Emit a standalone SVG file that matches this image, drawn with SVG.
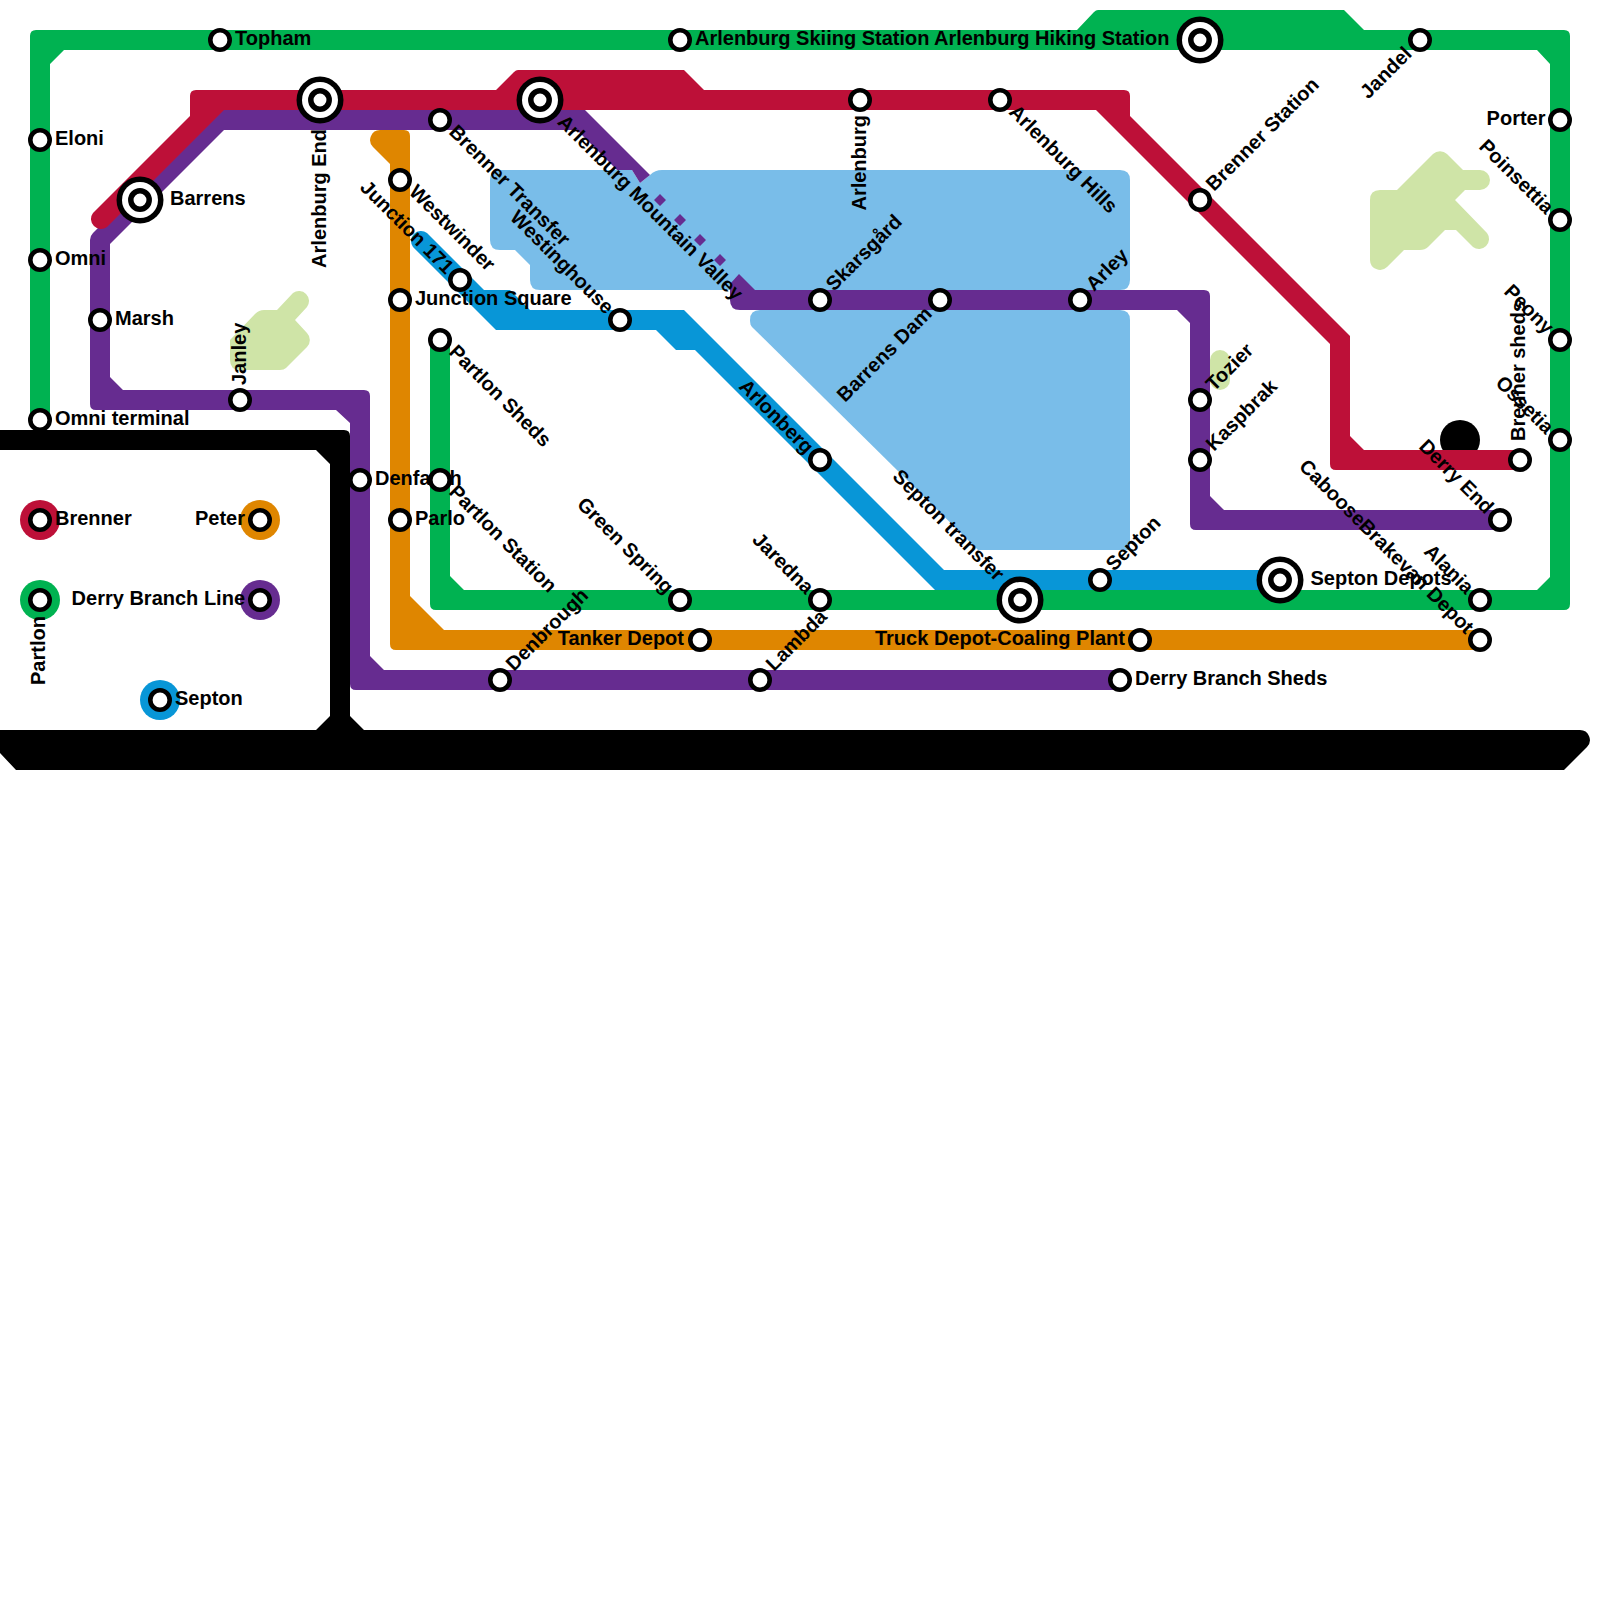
<svg xmlns="http://www.w3.org/2000/svg" width="1600" height="1600" viewBox="0 0 1600 1600">
<style>
text{font-family:"Liberation Sans",Arial,sans-serif;font-weight:700;font-size:20px;fill:#000}
.e{text-anchor:end}
.st{fill:#fff;stroke:#000;stroke-width:4.6}
.lake{fill:#79bde9}
.park{fill:#cfe4a7}
.dia{fill:#662c90}
</style>
<defs>
<circle id="s" class="st" r="9.7"/>
<g id="x"><circle r="23.5" fill="#000"/><circle r="18" fill="#fff"/><circle r="9.2" fill="#fff" stroke="#000" stroke-width="5.5"/></g>
</defs>
<rect width="1600" height="1600" fill="#fff"/>
<g id="scenery">
<circle cx="1460" cy="440" r="20" fill="#000"/>
<path class="park" d="M230 340L255 314Q259 310 264 310L277 310L293 293A10 10 0 0 1 307 307L295 320L307 333A10 10 0 0 1 307 347L286 368Q284 370 280 370L240 370Q230 370 230 360Z"/>
<path class="park" d="M1370 200Q1370 190 1380 190L1397 190L1433 154A10 10 0 0 1 1447 154L1463 170L1480 170A10 10 0 0 1 1480 190L1465 190L1455 200L1487 233A10 10 0 0 1 1473 247L1456 230L1445 230L1428 247Q1425 250 1420 250L1404 250L1387 267A10 10 0 0 1 1370 260Z"/>
<path d="M1220 360V380" stroke="#cfe4a7" stroke-width="20" stroke-linecap="round" fill="none"/>
<path class="lake" d="M500 170L632 170L640 183L650 175Q655 170 662 170L1120 170Q1130 170 1130 180L1130 280Q1130 290 1120 290L540 290Q530 290 530 280L530 265L515 250L500 250Q490 250 490 240L490 180Q490 170 500 170Z"/>
<path class="lake" d="M760 310L1120 310Q1130 310 1130 320L1130 550L978 550L752 327Q750 325 750 320Q750 310 760 310Z"/>
</g>
<g id="connectors">
<path id="line-septon" fill="#0896d7" d="M413 247A10 10 0 0 1 427 233L484 290L510 290L530 310L684 310L944 570L1280 570L1280 590L935 590L695 350L676 350L656 330L496 330Z"/>
<path id="line-peter" fill="#df8600" d="M380 130L404 130Q410 130 410 136L410 596L444 630L1480 630L1480 650L396 650Q390 650 390 644L390 164L373 147A10 10 0 0 1 380 130Z"/>
<path id="line-green" fill="#00b251" d="M30 420L30 36Q30 30 36 30L1077 30L1094 12Q1096 10 1098 10L1344 10L1364 30L1564 30Q1570 30 1570 36L1570 604Q1570 610 1564 610L436 610Q430 610 430 604L430 340L450 340L450 576L464 590L1537 590L1550 577L1550 64L1537 50L64 50L50 64L50 420Z"/>
<path id="line-derry-a" fill="#662c90" d="M90 240Q90 236 93 233L216 110L585 110L650 175L640 183L632 170L617 170L577 130L224 130L110 244L110 377L123 390L364 390Q370 390 370 396L370 656L384 670L1120 670L1120 690L356 690Q350 690 350 684L350 423L336 410L96 410Q90 410 90 404Z"/>
<path id="line-derry-b" fill="#662c90" d="M739 274L755 290L1204 290Q1210 290 1210 296L1210 496L1224 510L1500 510L1500 530L1196 530Q1190 530 1190 524L1190 323L1177 310L740 310Q730 310 730 300L730 284Z"/>
<path class="dia" d="M660 194l6 6l-6 6l-6-6ZM680 214l6 6l-6 6l-6-6ZM700 234l6 6l-6 6l-6-6ZM720 254l6 6l-6 6l-6-6Z"/>
<path id="line-brenner" fill="#bd1038" d="M93 213L190 116L190 96Q190 90 196 90L496 90L514 72Q516 70 518 70L684 70L704 90L1124 90Q1130 90 1130 96L1130 116L1350 336L1350 436L1364 450L1520 450L1520 470L1336 470Q1330 470 1330 464L1330 344L1096 110L224 110L107 227A10 10 0 0 1 93 213Z"/>
</g>
<g id="nodes">
<g id="n-topham"><text x="235" y="45">Topham</text><use href="#s" x="220" y="40"/></g>
<g id="n-eloni"><text x="55" y="145">Eloni</text><use href="#s" x="40" y="140"/></g>
<g id="n-omni"><text x="55" y="265">Omni</text><use href="#s" x="40" y="260"/></g>
<g id="n-omni-terminal"><text x="55" y="425">Omni terminal</text><use href="#s" x="40" y="420"/></g>
<g id="n-marsh"><text x="115" y="325">Marsh</text><use href="#s" x="100" y="320"/></g>
<g id="n-barrens"><text x="170" y="205">Barrens</text><use href="#x" x="140" y="200"/></g>
<g id="n-arlenburg-end"><text class="e" transform="translate(325.5 129) rotate(-90)">Arlenburg End</text><use href="#x" x="320" y="100"/></g>
<g id="n-janley"><text transform="translate(246 385) rotate(-90)">Janley</text><use href="#s" x="240" y="400"/></g>
<g id="n-brenner-transfer"><text transform="translate(448 133) rotate(45)">Brenner Transfer</text><use href="#s" x="440" y="120"/></g>
<g id="n-westinghouse"><text class="e" transform="translate(605.5 315) rotate(45)">Westinghouse</text><use href="#s" x="620" y="320"/></g>
<g id="n-arlenburg-mountain-valley"><text transform="translate(556.5 123) rotate(45)">Arlenburg Mountain Valley</text><use href="#x" x="540" y="100"/></g>
<g id="n-westwinder"><text transform="translate(408 193) rotate(45)">Westwinder</text><use href="#s" x="400" y="180"/></g>
<g id="n-junction-171"><text class="e" transform="translate(445.5 275) rotate(45)">Junction 171</text><use href="#s" x="460" y="280"/></g>
<g id="n-junction-square"><text x="415" y="305">Junction Square</text><use href="#s" x="400" y="300"/></g>
<g id="n-partlon-sheds"><text transform="translate(448 353) rotate(45)">Partlon Sheds</text><use href="#s" x="440" y="340"/></g>
<g id="n-denfaoth"><text x="375" y="485">Denfaoth</text><use href="#s" x="360" y="480"/></g>
<g id="n-partlon-station"><text transform="translate(448 493) rotate(45)">Partlon Station</text><use href="#s" x="440" y="480"/></g>
<g id="n-parlo"><text x="415" y="525">Parlo</text><use href="#s" x="400" y="520"/></g>
<g id="n-denbrough"><text transform="translate(514 672) rotate(-45)">Denbrough</text><use href="#s" x="500" y="680"/></g>
<g id="n-green-spring"><text class="e" transform="translate(665.5 595) rotate(45)">Green Spring</text><use href="#s" x="680" y="600"/></g>
<g id="n-tanker-depot"><text class="e" x="684" y="645">Tanker Depot</text><use href="#s" x="700" y="640"/></g>
<g id="n-lambda"><text transform="translate(774 672) rotate(-45)">Lambda</text><use href="#s" x="760" y="680"/></g>
<g id="n-jaredna"><text class="e" transform="translate(805.5 595) rotate(45)">Jaredna</text><use href="#s" x="820" y="600"/></g>
<g id="n-arlonberg"><text class="e" transform="translate(805.5 455) rotate(45)">Arlonberg</text><use href="#s" x="820" y="460"/></g>
<g id="n-skiing"><text x="695" y="45">Arlenburg Skiing Station</text><use href="#s" x="680" y="40"/></g>
<g id="n-hiking"><text class="e" x="1169.5" y="45">Arlenburg Hiking Station</text><use href="#x" x="1200" y="40"/></g>
<g id="n-arlenburg"><text class="e" transform="translate(865.7 115) rotate(-90)">Arlenburg</text><use href="#s" x="860" y="100"/></g>
<g id="n-arlenburg-hills"><text transform="translate(1008 113) rotate(45)">Arlenburg Hills</text><use href="#s" x="1000" y="100"/></g>
<g id="n-skarsgard"><text transform="translate(834 292) rotate(-45)">Skarsgård</text><use href="#s" x="820" y="300"/></g>
<g id="n-barrens-dam"><text class="e" transform="translate(933 315) rotate(-45)">Barrens Dam</text><use href="#s" x="940" y="300"/></g>
<g id="n-arley"><text transform="translate(1094 292) rotate(-45)">Arley</text><use href="#s" x="1080" y="300"/></g>
<g id="n-septon-transfer"><text class="e" transform="translate(996 582) rotate(45)">Septon transfer</text><use href="#x" x="1020" y="600"/></g>
<g id="n-septon"><text transform="translate(1114 572) rotate(-45)">Septon</text><use href="#s" x="1100" y="580"/></g>
<g id="n-truck-depot"><text class="e" x="1125" y="645">Truck Depot-Coaling Plant</text><use href="#s" x="1140" y="640"/></g>
<g id="n-derry-branch-sheds"><text x="1135" y="685">Derry Branch Sheds</text><use href="#s" x="1120" y="680"/></g>
<g id="n-brenner-station"><text transform="translate(1214 192) rotate(-45)">Brenner Station</text><use href="#s" x="1200" y="200"/></g>
<g id="n-tozier"><text transform="translate(1214 392) rotate(-45)">Tozier</text><use href="#s" x="1200" y="400"/></g>
<g id="n-kaspbrak"><text transform="translate(1214 452) rotate(-45)">Kaspbrak</text><use href="#s" x="1200" y="460"/></g>
<g id="n-septon-depots"><text x="1310.5" y="585">Septon Depots</text><use href="#x" x="1280" y="580"/></g>
<g id="n-caboose"><text class="e" transform="translate(1465.5 635) rotate(45)">CabooseBrakevan Depot</text><use href="#s" x="1480" y="640"/></g>
<g id="n-alania"><text class="e" transform="translate(1465.5 595) rotate(45)">Alania</text><use href="#s" x="1480" y="600"/></g>
<g id="n-derry-end"><text class="e" transform="translate(1485.5 515) rotate(45)">Derry End</text><use href="#s" x="1500" y="520"/></g>
<g id="n-brenner-sheds"><text transform="translate(1525 441) rotate(-90)">Brenner sheds</text><use href="#s" x="1520" y="460"/></g>
<g id="n-jandel"><text class="e" transform="translate(1413 55) rotate(-45)">Jandel</text><use href="#s" x="1420" y="40"/></g>
<g id="n-porter"><text class="e" x="1545.5" y="125">Porter</text><use href="#s" x="1560" y="120"/></g>
<g id="n-poinsettia"><text class="e" transform="translate(1545.5 215) rotate(45)">Poinsettia</text><use href="#s" x="1560" y="220"/></g>
<g id="n-peony"><text class="e" transform="translate(1545.5 335) rotate(45)">Peony</text><use href="#s" x="1560" y="340"/></g>
<g id="n-ossetia"><text class="e" transform="translate(1545.5 435) rotate(45)">Ossetia</text><use href="#s" x="1560" y="440"/></g>
</g>
<g id="legend">
<g id="k-brenner"><circle cx="40" cy="520" r="20" fill="#bd1038"/><text x="55" y="525">Brenner</text><use href="#s" x="40" y="520"/></g>
<g id="k-peter"><circle cx="260" cy="520" r="20" fill="#df8600"/><text class="e" x="245" y="525">Peter</text><use href="#s" x="260" y="520"/></g>
<g id="k-green"><circle cx="40" cy="600" r="20" fill="#00b251"/><text transform="translate(45 685) rotate(-90)">Partlon</text><use href="#s" x="40" y="600"/></g>
<g id="k-derry"><circle cx="260" cy="600" r="20" fill="#662c90"/><text class="e" x="245" y="605">Derry Branch Line</text><use href="#s" x="260" y="600"/></g>
<g id="k-septon"><circle cx="160" cy="700" r="20" fill="#0896d7"/><text x="175" y="705">Septon</text><use href="#s" x="160" y="700"/></g>
</g>
<path id="frame" fill="#000" d="M0 430L344 430Q350 430 350 436L350 716L364 730L1580 730A10 10 0 0 1 1587 747L1564 770L16 770L0 753L0 730L316 730L330 716L330 464L316 450L0 450Z"/>
</svg>
